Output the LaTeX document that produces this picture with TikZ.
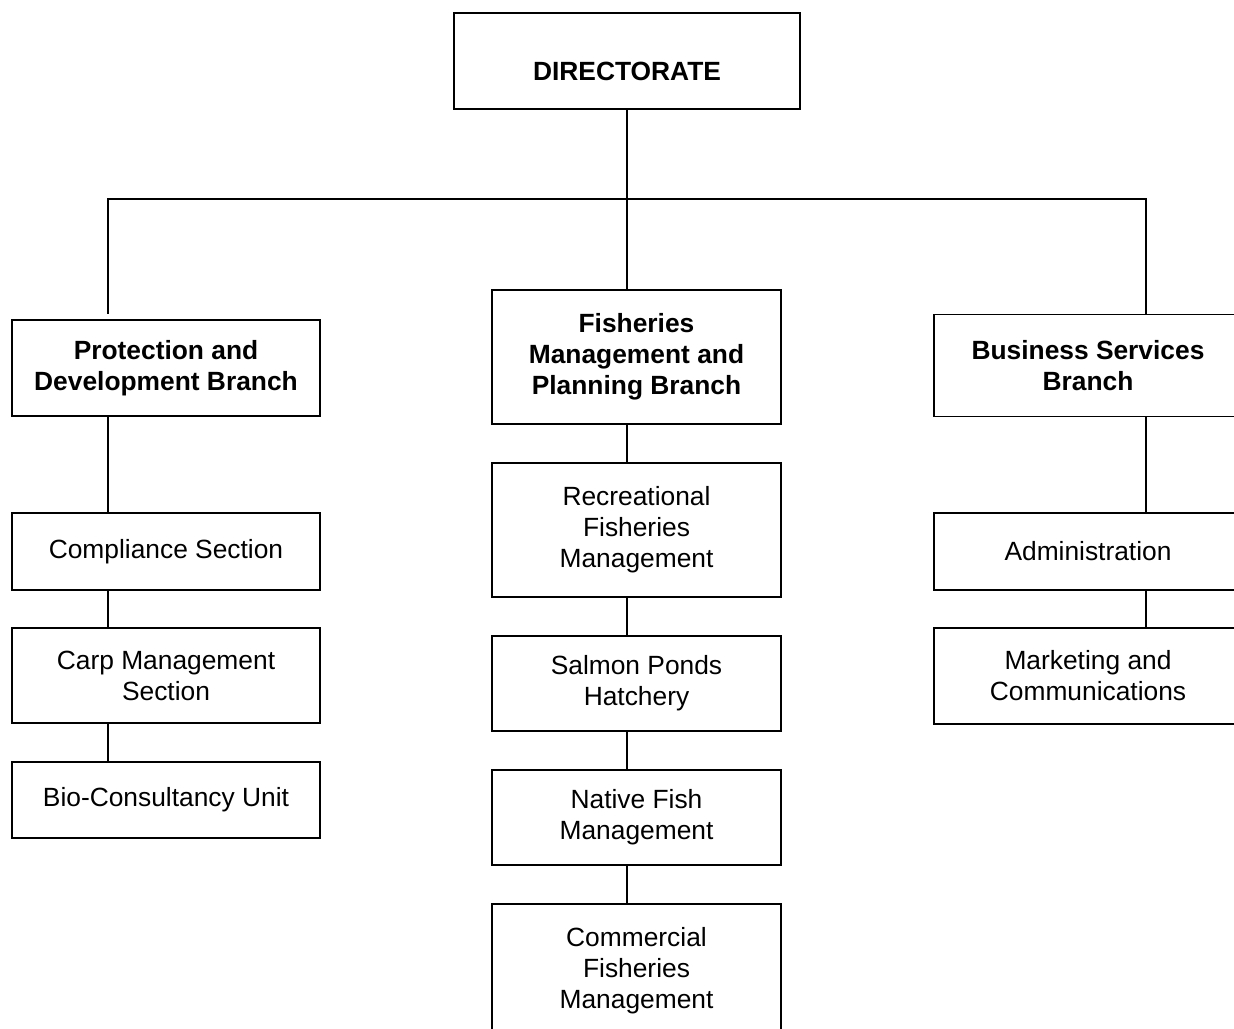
\documentclass[tikz,border=0pt]{standalone}
\usepackage{fontspec}
\setmainfont{Liberation Sans}

\begin{document}
\begin{tikzpicture}[x=0.02cm, y=-0.02cm, line width=1.1pt,
  unit/.style={draw, align=center, inner sep=0pt, font=\fontsize{15pt}{17.6pt}\selectfont},
  branch/.style={unit, font=\fontsize{15pt}{17.6pt}\selectfont\bfseries}]

\useasboundingbox (0,0) rectangle (1234,1028);
\clip (0,0) rectangle (1234,1028);

\node [branch, minimum width=6.92cm, minimum height=1.92cm, text height=0.78cm, text depth=0pt] (D) at (627,61) {DIRECTORATE};

\node [branch, minimum width=6.16cm, minimum height=1.92cm] (P) at (166,368) {Protection and\\Development Branch};
\node [branch, minimum width=5.78cm, minimum height=2.68cm] (F) at (636.5,357) {Fisheries\\Management and\\Planning Branch};
\node [branch, minimum width=6.16cm, minimum height=2.04cm] (B) at (1088,365.5) {Business Services\\Branch};

\node [unit, minimum width=6.16cm, minimum height=1.54cm] (P1) at (166,551.5) {Compliance Section};
\node [unit, minimum width=6.16cm, minimum height=1.9cm] (P2) at (166,675.5) {Carp Management\\Section};
\node [unit, minimum width=6.16cm, minimum height=1.52cm] (P3) at (166,800) {Bio-Consultancy Unit};

\node [unit, minimum width=5.78cm, minimum height=2.68cm] (F1) at (636.5,530) {Recreational\\Fisheries\\Management};
\node [unit, minimum width=5.78cm, minimum height=1.9cm] (F2) at (636.5,683.5) {Salmon Ponds\\Hatchery};
\node [unit, minimum width=5.78cm, minimum height=1.9cm] (F3) at (636.5,817.5) {Native Fish\\Management};
\node [unit, minimum width=5.78cm, minimum height=2.68cm] (F4) at (636.5,971) {Commercial\\Fisheries\\Management};

\node [unit, minimum width=6.16cm, minimum height=1.54cm] (B1) at (1088,551.5) {Administration};
\node [unit, minimum width=6.16cm, minimum height=1.92cm] (B2) at (1088,676) {Marketing and\\Communications};

\coordinate (L) at (108,199);
\coordinate (M) at (627,199);
\coordinate (R) at (1146,199);

\draw (D) -- (M);
\draw [shorten <=3pt] (L |- P.north) -- (L) -- (R) -- (R |- B.north);
\draw (M) -- (M |- F.north);

\foreach \a/\b in {P/P1,P1/P2,P2/P3}
  \draw (L |- \a.south) -- (L |- \b.north);
\foreach \a/\b in {F/F1,F1/F2,F2/F3,F3/F4}
  \draw (M |- \a.south) -- (M |- \b.north);
\foreach \a/\b in {B/B1,B1/B2}
  \draw (R |- \a.south) -- (R |- \b.north);

\end{tikzpicture}
\end{document}
